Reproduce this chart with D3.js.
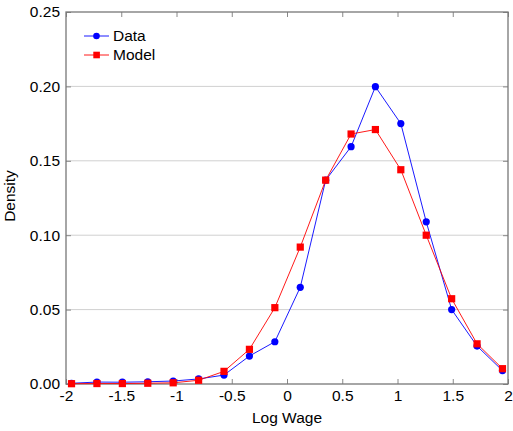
<!DOCTYPE html>
<html><head><meta charset="utf-8">
<script src="https://cdn.jsdelivr.net/npm/d3@7/dist/d3.min.js"></script>
<style>body{margin:0;background:#fff;} svg{display:block;} text{font-family:"Liberation Sans",Arial,sans-serif;}</style>
</head><body><svg id="c" width="513" height="431"></svg>
<script>
const logWage = [-1.95,-1.72,-1.49,-1.26,-1.03,-0.80,-0.57,-0.34,-0.11,0.12,0.35,0.58,0.80,1.03,1.26,1.49,1.72,1.95];
const dataDensity = [0.0005,0.0013,0.0012,0.0015,0.002,0.0034,0.006,0.0188,0.0284,0.065,0.137,0.1595,0.1998,0.175,0.109,0.050,0.0255,0.009];
const modelDensity = [0.0002,0.0003,0.0003,0.0005,0.0008,0.0025,0.0085,0.0233,0.0513,0.092,0.137,0.168,0.171,0.144,0.100,0.0573,0.027,0.0103];
const xTicks = [-2,-1.5,-1,-0.5,0,0.5,1,1.5,2];
const xTickLabels = ["-2","-1.5","-1","-0.5","0","0.5","1","1.5","2"];
const yTicks = [0,0.05,0.10,0.15,0.20,0.25];
const yTickLabels = ["0.00","0.05","0.10","0.15","0.20","0.25"];
const seriesNames = ["Data","Model"];

const svg = d3.select("#c");
const L=66,R=508,T=12,B=384;
const x = d3.scaleLinear().domain([-2,2]).range([L,R]);
const y = d3.scaleLinear().domain([0,0.25]).range([B,T]);

// grid
svg.append("g").selectAll("line").data(yTicks.slice(1,-1)).join("line")
  .attr("x1",L).attr("x2",R).attr("y1",d=>y(d)).attr("y2",d=>y(d))
  .attr("stroke","#d0d0d0").attr("stroke-width",1);

// axes
const fs = 15.5;
const xb = svg.append("g").attr("transform",`translate(0,${B})`)
  .call(d3.axisBottom(x).tickValues(xTicks).tickFormat((d,i)=>xTickLabels[i]).tickSizeInner(-5).tickSizeOuter(0).tickPadding(6));
const xt = svg.append("g").attr("transform",`translate(0,${T})`)
  .call(d3.axisTop(x).tickValues(xTicks).tickFormat("").tickSizeInner(-5).tickSizeOuter(0));
const yl = svg.append("g").attr("transform",`translate(${L},0)`)
  .call(d3.axisLeft(y).tickValues(yTicks).tickFormat((d,i)=>yTickLabels[i]).tickSizeInner(-5).tickSizeOuter(0).tickPadding(6));
const yr = svg.append("g").attr("transform",`translate(${R},0)`)
  .call(d3.axisRight(y).tickValues(yTicks).tickFormat("").tickSizeInner(-5).tickSizeOuter(0));
[xb,xt,yl,yr].forEach(g=>{
  g.select(".domain").remove();
  g.selectAll("line").attr("stroke","#888");
  g.selectAll("text").attr("font-size",fs).attr("fill","#000").style("font-family","Liberation Sans, Arial, sans-serif");
});
xb.selectAll("text").attr("dy","0.71em");
svg.append("rect").attr("x",L).attr("y",T).attr("width",R-L).attr("height",B-T)
  .attr("fill","none").attr("stroke","#777").attr("stroke-width",1.3);

// axis titles
svg.append("text").attr("x",(L+R)/2).attr("y",423).attr("text-anchor","middle").attr("font-size",fs).text("Log Wage");
svg.append("text").attr("transform",`translate(15,196) rotate(-90)`).attr("text-anchor","middle").attr("font-size",fs).text("Density");

const line = d3.line().x(d=>x(d[0])).y(d=>y(d[1]));
const dPts = logWage.map((v,i)=>[v,dataDensity[i]]);
const mPts = logWage.map((v,i)=>[v,modelDensity[i]]);

svg.append("path").datum(dPts).attr("d",line).attr("fill","none").attr("stroke","#0000ff").attr("stroke-width",0.9);
svg.append("g").selectAll("circle").data(dPts).join("circle")
  .attr("cx",d=>x(d[0])).attr("cy",d=>y(d[1])).attr("r",3.6).attr("fill","#0000ff");

svg.append("path").datum(mPts).attr("d",line).attr("fill","none").attr("stroke","#ff0000").attr("stroke-width",0.9);
svg.append("g").selectAll("rect").data(mPts).join("rect")
  .attr("x",d=>x(d[0])-3.6).attr("y",d=>y(d[1])-3.6).attr("width",7.2).attr("height",7.2).attr("fill","#ff0000");

// legend
const lg = svg.append("g");
const ly = [36,55];
lg.append("line").attr("x1",84).attr("x2",109).attr("y1",ly[0]).attr("y2",ly[0]).attr("stroke","#0000ff").attr("stroke-width",0.9);
lg.append("circle").attr("cx",96.5).attr("cy",ly[0]).attr("r",3.3).attr("fill","#0000ff");
lg.append("line").attr("x1",84).attr("x2",109).attr("y1",ly[1]).attr("y2",ly[1]).attr("stroke","#ff0000").attr("stroke-width",0.9);
lg.append("rect").attr("x",93.3).attr("y",ly[1]-3.3).attr("width",6.6).attr("height",6.6).attr("fill","#ff0000");
lg.selectAll("text.l").data(seriesNames).join("text").attr("class","l")
  .attr("x",113).attr("y",(d,i)=>ly[i]).attr("dy","0.35em").attr("font-size",fs).text(d=>d);
</script></body></html>
